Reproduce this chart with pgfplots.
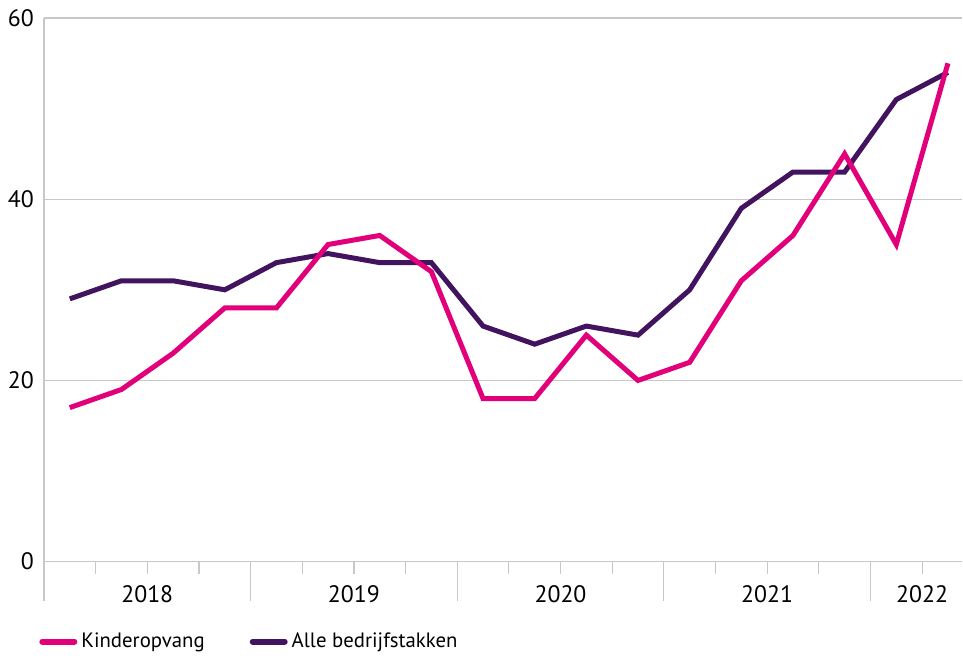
\documentclass[border=0pt]{standalone}
\usepackage{fontspec}
\setmainfont{PT Sans}
\usepackage{pgfplots}
\pgfplotsset{compat=1.18}
\definecolor{kpink}{HTML}{E2007A}
\definecolor{kpurple}{HTML}{42145F}
\definecolor{gridgray}{HTML}{C8C8C8}
\begin{document}
\begin{tikzpicture}[font=\fontsize{11.9}{14}\selectfont]
\begin{axis}[
  scale only axis, width=459.5pt, height=272pt,
  at={(0,0)}, anchor=south west,
  xmin=-0.5, xmax=17.28, ymin=0, ymax=60,
  axis x line=bottom, axis y line=left,
  axis line style={gridgray, line width=0.6pt, -},
  ytick={0,20,40,60},
  ymajorgrids, grid style={gridgray, line width=0.6pt},
  y tick style={draw=none},
  yticklabel style={xshift=-1.5pt},
  xtick={1.5,5.5,9.5,13.5,16.5},
  xticklabels={2018,2019,2020,2021,2022},
  minor xtick={-0.5,0.5,...,16.5},
  tick align=outside,
  major tick length=0pt,
  minor tick length=6pt,
  x tick style={gridgray, line width=0.6pt},
  extra x ticks={-0.5,3.5,7.5,11.5,15.5},
  extra x tick labels={},
  extra tick style={major tick length=19.5pt, grid=none},
  /pgf/number format/assume math mode=true,
  xticklabel style={yshift=-8.5pt},
  clip=false,
  legend style={at={(-0.012,-0.147)}, anchor=west, draw=none, fill=none,
    font=\fontsize{10.4}{12}\selectfont,
    legend columns=2, /tikz/every even column/.append style={column sep=20.5pt}},
  legend cell align=left,
  legend image code/.code={\draw[#1, line width=3pt, line cap=round] (0pt,0pt) -- (16pt,0pt);},
]
\addlegendimage{kpink}
\addlegendimage{kpurple}
\addplot[kpurple, line width=2.5pt, forget plot] coordinates {(0,29)(1,31)(2,31)(3,30)(4,33)(5,34)(6,33)(7,33)(8,26)(9,24)(10,26)(11,25)(12,30)(13,39)(14,43)(15,43)(16,51)(17,54)};
\addplot[kpink, line width=2.5pt, forget plot] coordinates {(0,17)(1,19)(2,23)(3,28)(4,28)(5,35)(6,36)(7,32)(8,18)(9,18)(10,25)(11,20)(12,22)(13,31)(14,36)(15,45)(16,35)(17,55)};
\legend{Kinderopvang, Alle bedrijfstakken}
\end{axis}
\path (-22pt,-46pt) rectangle (459.5pt,281pt);
\end{tikzpicture}
\end{document}
